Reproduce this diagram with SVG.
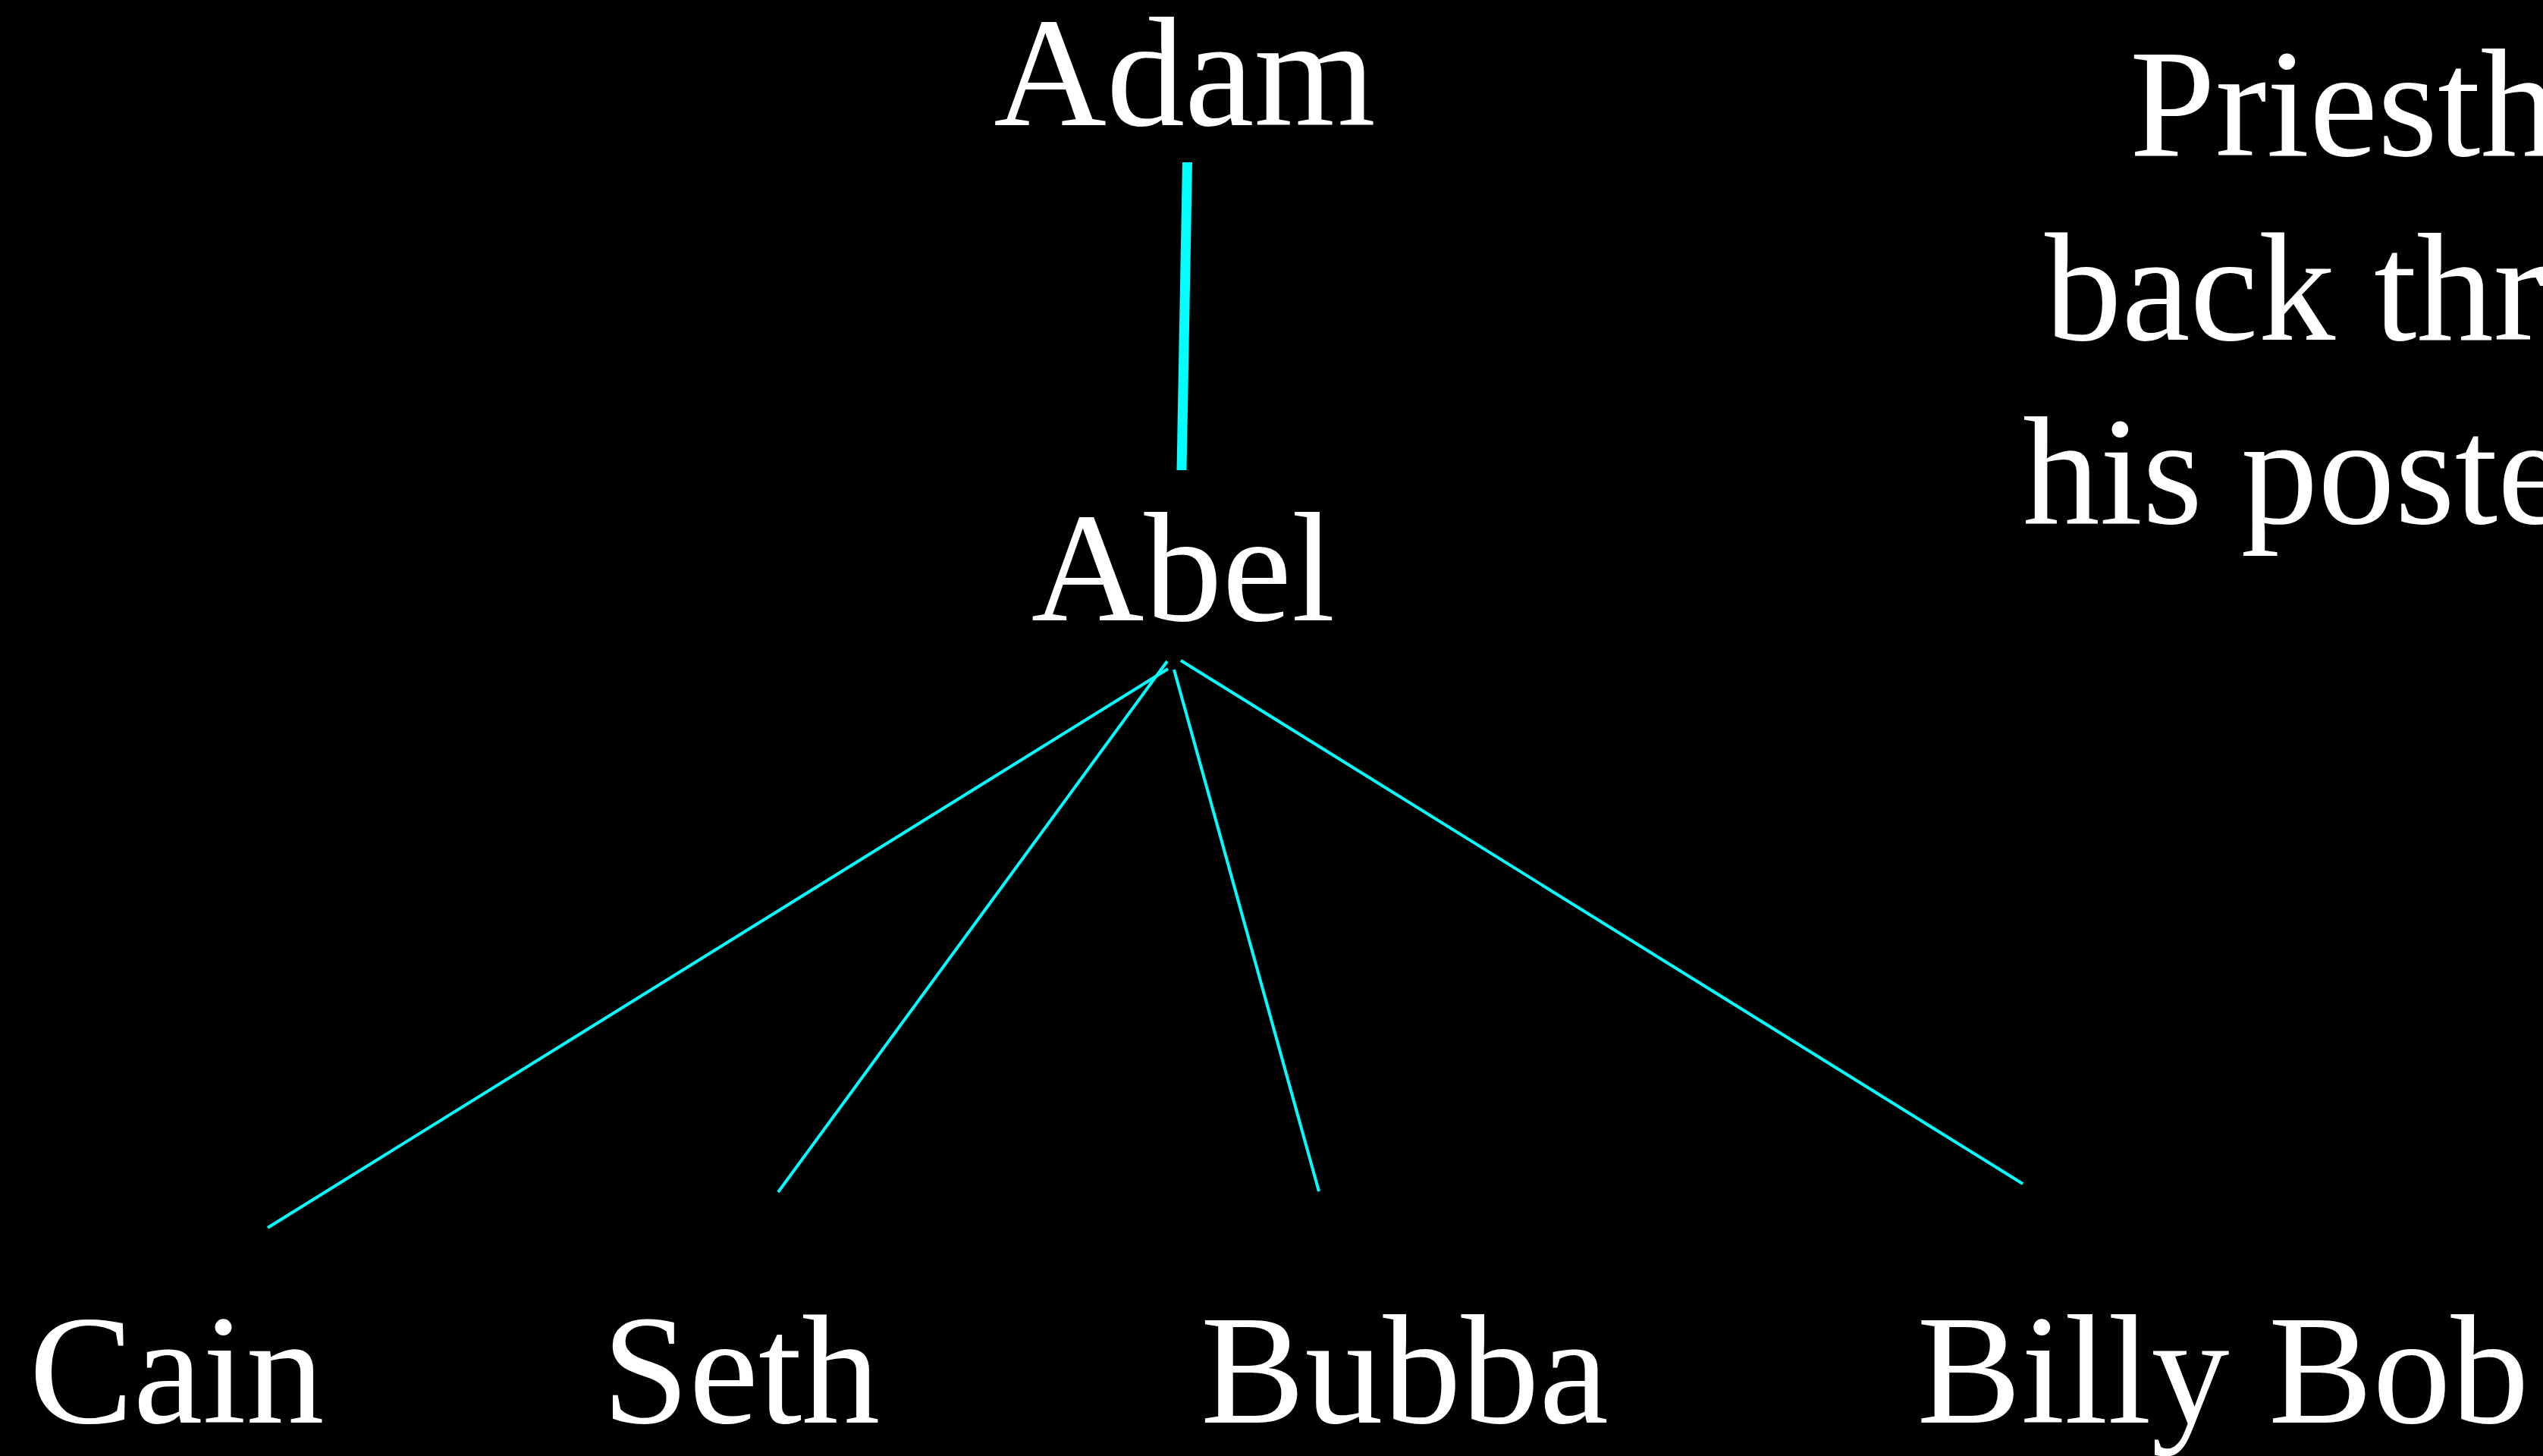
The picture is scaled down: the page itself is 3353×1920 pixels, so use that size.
<svg xmlns="http://www.w3.org/2000/svg" width="3353" height="1920" viewBox="0 0 3353 1920">
<style>
.t{font-family:"Liberation Serif","Times New Roman",serif;font-size:206px;fill:#ffffff}
.n{text-anchor:middle}
.r{font-size:203px}
.c{stroke:#00ffff;fill:none;stroke-linecap:butt}
</style>
<rect x="0" y="0" width="3353" height="1920" fill="#000000"/>
<g id="connectors">
<line class="c" x1="1565.5" y1="214" x2="1558" y2="620" stroke-width="13"/>
<line class="c" x1="1540" y1="882" x2="353" y2="1619" stroke-width="4"/>
<line class="c" x1="1539" y1="872" x2="1026" y2="1572" stroke-width="4"/>
<line class="c" x1="1548" y1="883" x2="1739" y2="1571" stroke-width="4"/>
<line class="c" x1="1557" y1="871" x2="2667" y2="1561" stroke-width="4"/>
</g>
<g id="adam"><text class="t n" x="1562" y="165">Adam</text></g>
<g id="abel"><text class="t n" x="1560" y="818">Abel</text></g>
<g id="cain"><text class="t n" x="233" y="1876">Cain</text></g>
<g id="seth"><text class="t n" x="977" y="1876">Seth</text></g>
<g id="bubba"><text class="t n" x="1852" y="1876">Bubba</text></g>
<g id="billybob"><text class="t n" x="2931" y="1876">Billy Bob</text></g>
<g id="note">
<text class="t r" x="2808" y="205">Priesthood</text>
<text class="t r" x="2696" y="448">back through</text>
<text class="t r" x="2667" y="690">his posterity</text>
</g>
</svg>
